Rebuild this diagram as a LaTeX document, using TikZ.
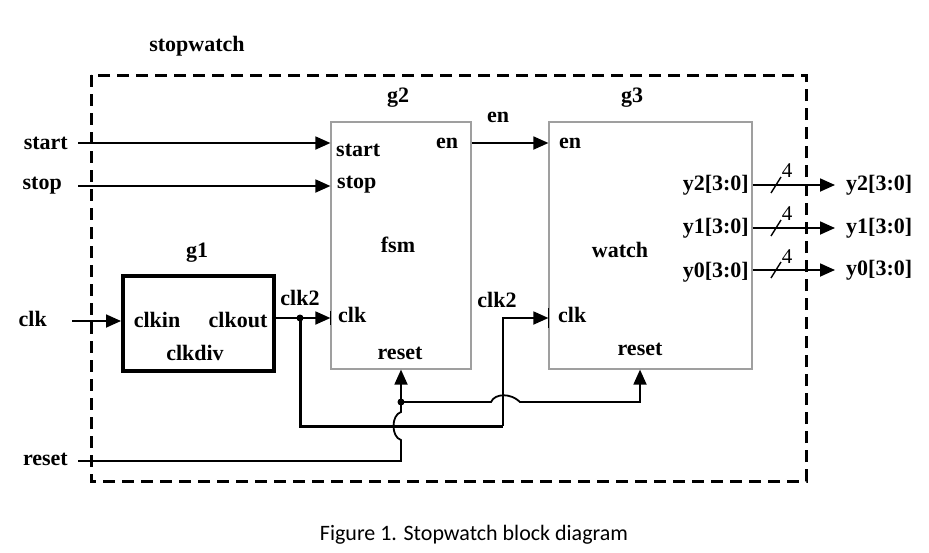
\documentclass[tikz,border=0pt]{standalone}
\usepackage{fontspec}
\setmainfont{Liberation Serif}
\newfontfamily\capfont{Carlito}
\usetikzlibrary{arrows.meta,calc,positioning}

\begin{document}
\begin{tikzpicture} [ % 样式
    x=1pt, y=-1pt, >={Triangle[length=15pt,width=13pt]},
    lbl/.style = {font = \fontsize{22}{24}\selectfont\bfseries, inner sep=0pt},
    num/.style = {font = \fontsize{21}{24}\selectfont, inner sep=0pt},
    blk/.style = {shape = rectangle, draw = gray!75, line width = 1.2pt},
    blk2/.style = {shape = rectangle, draw = black, line width = 4pt},
    wire/.style = {line width = 1.8pt},
    wire2/.style = {line width = 3pt},
    frame/.style = {line width = 3pt, dash pattern = on 12pt off 7pt}
]

\useasboundingbox (0,0) rectangle (929,552);

% 外框
\draw [frame] (91,75) rectangle (806,481);
\node [lbl] (top) at (197,46){stopwatch};

% 模块
\node [blk2, minimum width=151pt, minimum height=95pt] (g1) at (198.5,323.5){};
\node [blk, minimum width=140pt, minimum height=247pt] (g2) at (401,245.5){};
\node [blk, minimum width=203pt, minimum height=247pt] (g3) at (650.5,245.5){};

\node [lbl] (tg1) at (197,253){g1};
\node [lbl] (tg2) at (398,98){g2};
\node [lbl] (tg3) at (632,98){g3};

% g1 端口
\node [lbl] (clkin) at (157,320){clkin};
\node [lbl] (clkout) at (238,320){clkout};
\node [lbl] (clkdiv) at (195,353){clkdiv};

% g2 端口
\node [lbl, anchor=west] (pstart) at (336,150){start};
\node [lbl, anchor=west] (pstop) at (337,185){stop};
\node [lbl] (pen) at (447,143){en};
\node [lbl] (fsm) at (398,245){fsm};
\node [lbl, anchor=west] (pclk) at (338,315){clk};
\node [lbl] (preset) at (400,353){reset};

% g3 端口
\node [lbl] (qen) at (570,143){en};
\node [lbl] (watch) at (620,250){watch};
\node [lbl, anchor=west] (qclk) at (558,315){clk};
\node [lbl] (qreset) at (640,349){reset};
\node [lbl, anchor=east] (qy2) at (749,185){y2[3:0]};
\node [lbl, anchor=east] (qy1) at (749,228){y1[3:0]};
\node [lbl, anchor=east] (qy0) at (749,272){y0[3:0]};

% 左边输入
\node [lbl, anchor=east] (lstart) at (68,143){start};
\node [lbl, anchor=east] (lstop) at (62,186){stop};
\node [lbl, anchor=east] (lclk) at (47,319){clk};
\node [lbl, anchor=east] (lreset) at (68,459){reset};

\coordinate (istart) at (78,143);
\coordinate (istop) at (78,186);
\coordinate (iclk) at (72,321);
\coordinate (ireset) at (78,461);

% 右边输出
\coordinate (y2out) at (835,185);
\coordinate (y1out) at (835,228);
\coordinate (y0out) at (835,270);

\node [lbl, right=11pt of y2out] (oy2){y2[3:0]};
\node [lbl, right=11pt of y1out] (oy1){y1[3:0]};
\node [lbl, right=11pt of y0out] (oy0){y0[3:0]};

\node [num] (n2) at (787,171){4};
\node [num] (n1) at (787,214){4};
\node [num] (n0) at (787,257){4};

% 中间标签
\node [lbl] (len) at (498,117){en};
\node [lbl] (lclk2a) at (300,298){clk2};
\node [lbl] (lclk2b) at (497,300){clk2};

% 连线
\draw [wire,->](istart)--(g2.west |- istart);
\draw [wire,->](istop)--(g2.west |- istop);
\draw [wire,->](iclk)--(g1.west |- iclk);
\draw [wire,->](g2.east |- istart)--(g3.west |- istart);

\draw [wire,->](g3.east |- y2out)--(y2out);
\draw [wire,->](g3.east |- y1out)--(y1out);
\draw [wire,->](g3.east |- y0out)--(y0out);

\draw [line width=1.4pt]($(y2out)+(-64,8)$)--++(10,-16);
\draw [line width=1.4pt]($(y1out)+(-64,8)$)--++(10,-16);
\draw [line width=1.4pt]($(y0out)+(-64,8)$)--++(10,-16);

% 时钟 clk2
\coordinate (cdot) at (300,318);
\coordinate (cturn) at (503,426);
\coordinate (cup) at (503,318);

\draw [wire,->](g1.east |- cdot)--(g2.west |- cdot);
\fill (cdot) circle (3.5);
\draw [wire2](cdot)--(cdot |- cturn)--(cturn);
\draw [wire,->](cturn)--(cup)--(g3.west |- cup);

\draw [line width=1.5pt](g2.west |- 0,311)--(g2.west |- 0,325);
\draw [line width=1.5pt](g3.west |- 0,308)--(g3.west |- 0,328);

% 复位 reset
\coordinate (rdot) at (401,402);
\coordinate (rjoin) at (401,461);
\coordinate (rg3) at (640,402);

\draw [wire](ireset)--(rjoin)--++(0,-21) .. controls +(-10,-3) and +(-10,3) .. ++(0,-28)--(rdot);
\fill (rdot) circle (3.5);
\draw [wire,->](rdot)--(g2.south);
\draw [wire,->](rdot)--(491,402) .. controls (495,393) and (511,393) .. (520,402)--(rg3)--(rg3 |- g3.south);

% 标题
\node [font=\capfont\fontsize{22}{24}\selectfont] (cap) at (474,535){Figure 1. Stopwatch block diagram};

\end{tikzpicture}
\end{document}
